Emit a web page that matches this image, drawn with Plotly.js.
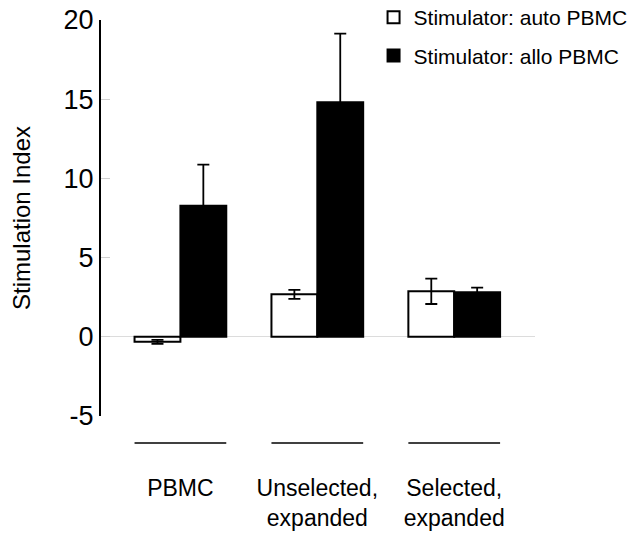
<!DOCTYPE html>
<html>
<head>
<meta charset="utf-8">
<script src="https://cdn.plot.ly/plotly-3.0.1.min.js"></script>
<style>
  html, body { margin: 0; padding: 0; background: #fff; }
  #chart { width: 632px; height: 533px; }
</style>
</head>
<body>
<div id="chart"></div>
<script>
const categories = ['PBMC', 'Unselected,<br>expanded', 'Selected,<br>expanded'];
const autoValues = [-0.32, 2.68, 2.87];
const autoErrors = [0.12, 0.28, 0.8];
const alloValues = [8.27, 14.8, 2.81];
const alloErrors = [2.6, 4.34, 0.3];
const yTickVals = [-5, 0, 5, 10, 15, 20];
const yTickText = ['-5', '0', '5', '10', '15', '20'];

const FONT = 'Liberation Sans, Arial, sans-serif';
const BAR_GAP = 0.33;

const xIdx = categories.map((_, i) => i);

const traces = [
  {
    name: 'Stimulator: auto PBMC',
    x: xIdx,
    y: autoValues,
    type: 'bar',
    marker: { color: '#ffffff', line: { color: '#000000', width: 2 } },
    error_y: { type: 'data', array: autoErrors, visible: true, color: '#000', thickness: 1.8, width: 6 },
    legendgroup: 'a',
  },
  {
    name: 'Stimulator: allo PBMC',
    x: xIdx,
    y: alloValues,
    type: 'bar',
    marker: { color: '#000000', line: { color: '#000000', width: 2 } },
    error_y: { type: 'data', array: alloErrors, visible: true, color: '#000', thickness: 1.8, width: 6 },
    legendgroup: 'b',
  },
];

// underline below each category group
const shapes = xIdx.map(i => ({
  type: 'line',
  xref: 'x',
  yref: 'paper',
  x0: i - (1 - BAR_GAP) / 2,
  x1: i + (1 - BAR_GAP) / 2,
  y0: -0.068,
  y1: -0.068,
  line: { color: '#000', width: 1.5 },
}));

const layout = {
  width: 632,
  height: 533,
  font: { family: FONT, color: '#000' },
  paper_bgcolor: '#fff',
  plot_bgcolor: '#fff',
  margin: { t: 20, r: 97, b: 117, l: 101, autoexpand: false },
  barmode: 'group',
  bargap: BAR_GAP,
  bargroupgap: 0,
  showlegend: true,
  legend: {
    x: 0.628,
    y: 1.058,
    xanchor: 'left',
    yanchor: 'top',
    font: { family: FONT, size: 21, color: '#000' },
    traceorder: 'grouped',
    tracegroupgap: 8,
    bgcolor: 'rgba(0,0,0,0)',
  },
  xaxis: {
    range: [-0.58, 2.59],
    tickvals: xIdx,
    ticktext: categories,
    showline: false,
    showgrid: false,
    zeroline: false,
    ticks: '',
    ticklabelstandoff: 56,
    tickfont: { family: FONT, size: 23, color: '#000' },
  },
  yaxis: {
    range: [-5, 20],
    tickvals: yTickVals,
    ticktext: yTickText,
    showline: true,
    linecolor: '#000',
    linewidth: 2,
    ticks: 'inside',
    ticklen: 9,
    tickcolor: '#d0d0d0',
    tickwidth: 1,
    showgrid: false,
    zeroline: true,
    zerolinecolor: '#dcdcdc',
    zerolinewidth: 1,
    tickfont: { family: FONT, size: 27, color: '#000' },
    title: { text: 'Stimulation Index', font: { family: FONT, size: 24, color: '#000' }, standoff: 26 },
  },
  shapes,
};

Plotly.newPlot('chart', traces, layout, { displayModeBar: false, staticPlot: true });
</script>
</body>
</html>
